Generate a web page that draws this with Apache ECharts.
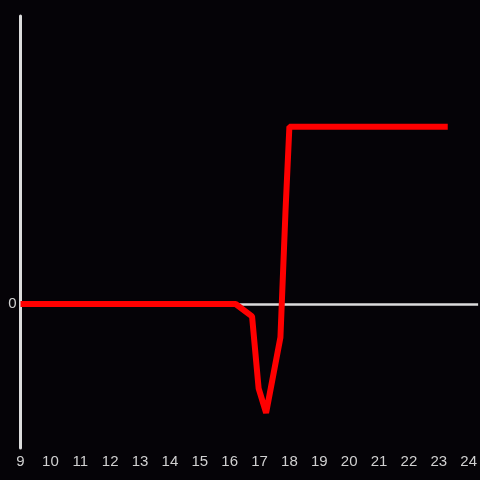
<!DOCTYPE html>
<html>
<head>
<meta charset="utf-8">
<script src="https://cdn.jsdelivr.net/npm/echarts@6/dist/echarts.min.js"></script>
<style>html,body{margin:0;padding:0;background:#050307;}#c{width:480px;height:480px;}</style>
</head>
<body>
<div id="c"></div>
<script>
const hours = [9, 16.2, 16.75, 16.97, 17.22, 17.7, 17.87, 18.0, 23.3];
const values = [0, 0, -7, -48, -62, -19, 53, 101, 101];
const xTickLabels = [9,10,11,12,13,14,15,16,17,18,19,20,21,22,23,24];

const chart = echarts.init(document.getElementById('c'));
chart.setOption({
  backgroundColor: '#050307',
  animation: false,
  grid: {left: 20.5, right: 0, top: 16, bottom: 32},
  xAxis: {
    type: 'value', min: 9, max: 24.317, interval: 1,
    axisLine: {show: false, onZero: false},
    axisTick: {show: false},
    splitLine: {show: false},
    axisLabel: {color: '#d0d0d0', fontSize: 15, margin: 6, fontFamily: 'Liberation Sans',
      customValues: xTickLabels, showMaxLabel: true}
  },
  yAxis: {
    type: 'value', min: -82, max: 164,
    axisLine: {show: true, lineStyle: {color: '#dcdcdc', width: 3}},
    axisTick: {show: false},
    splitLine: {show: false},
    axisLabel: {color: '#d0d0d0', fontSize: 15, margin: 4, fontFamily: 'Liberation Sans', customValues: [0]}
  },
  series: [{
    type: 'line',
    data: hours.map((h, i) => [h, values[i]]),
    symbol: 'none',
    lineStyle: {color: '#ff0000', width: 6},
    z: 5,
    markLine: {
      silent: true, symbol: 'none', label: {show: false},
      lineStyle: {color: '#dcdcdc', width: 2.5, type: 'solid'},
      data: [{yAxis: 0}],
      z: 1
    }
  }]
});
</script>
</body>
</html>
